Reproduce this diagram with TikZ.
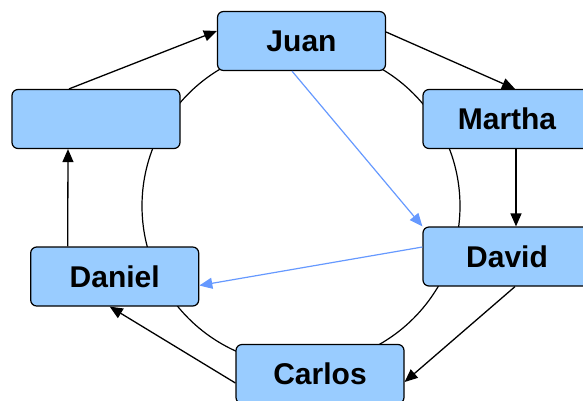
\documentclass[tikz,border=0pt]{standalone}
\usepackage{fontspec}
\setmainfont{Liberation Sans}
\usetikzlibrary{arrows.meta,calc}
\definecolor{boxfill}{HTML}{99CCFF}
\definecolor{bluearrow}{HTML}{6699FF}
\begin{document}
\begin{tikzpicture}[x=1pt,y=-1pt,
  person/.style={draw=black,fill=boxfill,line width=1.2pt,rounded corners=6pt,
    minimum width=168pt,minimum height=59pt,inner sep=0pt,
    font=\fontsize{30}{36}\selectfont\bfseries},
  link/.style={line width=1.3pt,-{Triangle[length=13pt,width=11pt]}},
  bluelink/.style={link,draw=bluearrow,-{Triangle[length=13pt,width=11pt,fill=bluearrow]},line width=1.2pt},
  ring/.style={line width=1.2pt}]
\useasboundingbox (0,0) rectangle (583,400);
\clip (0,0) rectangle (583,400);
\draw[ring] (301,206) circle[radius=159];
\node[person] (j) at (301.5,41) {Juan};
\node[person] (m) at (507,119) {Martha};
\node[person] (d) at (507,256.5) {David};
\node[person] (c) at (320,374) {Carlos};
\node[person] (n) at (114.7,276.5) {Daniel};
\node[person] (e) at (96,119) {};
\draw[link] ([xshift=-27pt]e.north) -- ([yshift=10pt]j.west);
\draw[link] ([yshift=9pt]j.east) -- ([xshift=8pt]m.north);
\draw[link] ([xshift=9pt]m.south) -- ([xshift=9pt]d.north);
\draw[link] ([xshift=8pt]d.south) -- ([yshift=-8pt]c.east);
\draw[link] ([yshift=-9pt]c.west) -- ([xshift=-5pt]n.south);
\draw[link] ([xshift=-47pt]n.north) -- ([xshift=-28pt]e.south);
\draw[bluelink] ([xshift=-9.5pt]j.south) -- (d.north west);
\draw[bluelink] ([yshift=9.5pt]d.west) -- ([yshift=-9pt]n.east);
\end{tikzpicture}
\end{document}
